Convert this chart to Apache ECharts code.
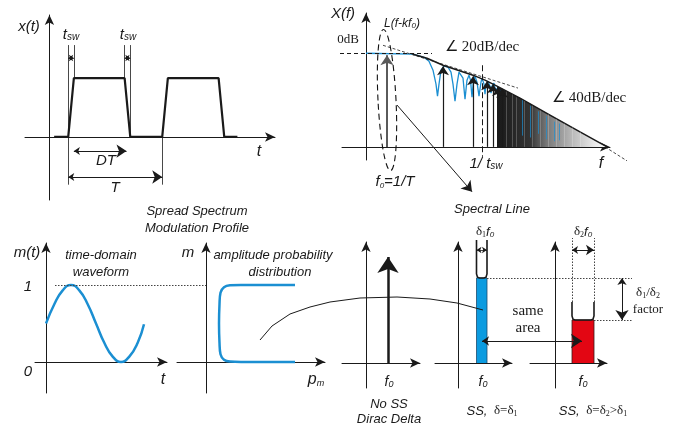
<!DOCTYPE html>
<html>
<head>
<meta charset="utf-8">
<script src="https://cdn.jsdelivr.net/npm/echarts@6/dist/echarts.min.js"></script>
<style>
  html, body { margin: 0; padding: 0; background: #fff; }
  #chart { width: 689px; height: 426px; }
</style>
</head>
<body>
<div id="chart"></div>
<script>
// ---- top left: trapezoidal switching waveform (t in periods T, x normalised) ----
const pulseT = [0.05, 0.2, 0.26, 0.8, 0.86, 1.2, 1.26, 1.8, 1.86, 2.0];
const pulseX = [0, 0, 1, 1, 0, 0, 1, 1, 0, 0];
const guideT = [0.2, 0.26, 0.8, 0.86, 1.2];
const guideTop = [1.56, 1.56, 1.56, 1.56, 0];
const guideBottom = [-0.81, 1, 1, 0, -0.81];
const tswSpans = [[0.2, 0.26], [0.8, 0.86]];
const dtSpan = [0.26, 0.82];
const periodSpan = [0.2, 1.2];

// ---- top right: spectrum magnitude (relative frequency / relative level) ----
const envF = [0.47, 0.61, 0.77, 0.92, 1.07, 1.19, 1.31, 1.54, 1.84, 2.14, 2.41];
const envMag = [0.99, 0.947, 0.872, 0.819, 0.766, 0.713, 0.649, 0.521, 0.34, 0.16, 0];
const rollF = [1.31, 1.54, 1.84, 2.14, 2.41];
const rollMag = [0.649, 0.521, 0.34, 0.16, 0];
const sincF = [0, 0.47, 0.58, 0.63, 0.67, 0.70, 0.715, 0.73, 0.75, 0.78, 0.82, 0.85, 0.87, 0.89, 0.91, 0.93,
  0.95, 0.97, 0.99, 1.01, 1.03, 1.045, 1.06, 1.075, 1.09, 1.11, 1.13, 1.15, 1.16, 1.18, 1.19, 1.20,
  1.22, 1.24, 1.25, 1.26, 1.28, 1.29, 1.30, 1.31, 1.33, 1.35, 1.37];
const sincMag = [1.0, 0.99, 0.957, 0.915, 0.819, 0.67, 0.543, 0.67, 0.819, 0.862, 0.851, 0.798, 0.67, 0.489, 0.67, 0.798,
  0.809, 0.734, 0.51, 0.713, 0.766, 0.713, 0.532, 0.713, 0.755, 0.691, 0.543, 0.691, 0.734, 0.67, 0.564, 0.67,
  0.702, 0.649, 0.574, 0.649, 0.681, 0.628, 0.574, 0.628, 0.649, 0.585, 0.617];
const f0 = 0.21, f0Mag = 0.98;
const harmF = [0.77, 1.07, 1.21, 1.27, 1.32, 1.36];
const harmMag = [0.86, 0.755, 0.70, 0.67, 0.64, 0.62];
const stripeF = [1.40, 1.46, 1.50, 1.58, 1.66, 1.74, 1.82, 1.90, 1.98, 2.06, 2.14];
const stripeTop = [0.59, 0.56, 0.53, 0.49, 0.44, 0.39, 0.35, 0.30, 0.25, 0.21, 0.16];
const blueTailF = [1.56, 1.64, 1.72, 1.80, 1.88, 1.93];
const blueTailTop = [0.50, 0.44, 0.38, 0.33, 0.27, 0.25];
const blueTailBottom = [0.12, 0.10, 0.14, 0.08, 0.06, 0.07];
const zeroDbF = [-0.26, 0.66];
const slope20F = [0.17, 1.52], slope20Mag = [1.085, 0.628];
const slope40F = [2.39, 2.61], slope40Mag = [0, -0.149];
const fSwitch = 1.16, fSwitchMag = [0.872, -0.106];
const lorentzCenter = [0.21, 0.5];
const lorentzSpanF = 0.09, lorentzSpanMag = 0.755; // half-width / half-height of the dashed ellipse
const pointerF = [0.31, 1.06], pointerMag = [0.447, -0.479];

// ---- bottom left: modulation profile ----
const modT = [0, 0.083, 0.167, 0.25, 0.333, 0.417, 0.5, 0.583, 0.667, 0.75, 0.833, 0.917, 0.98];
const modM = [0.5, 0.75, 0.93, 1.0, 0.93, 0.75, 0.5, 0.25, 0.07, 0, 0.07, 0.25, 0.49];
const pdfP = [0.89, 0.35, 0.24, 0.18, 0.145, 0.135, 0.13, 0.135, 0.145, 0.18, 0.24, 0.35, 0.89];
const pdfM = [1.0, 1.0, 0.995, 0.97, 0.9, 0.75, 0.5, 0.25, 0.1, 0.03, 0.005, 0, 0];
const maxLineT = [0.09, 1.6];

// ---- bottom right: spectral line shapes ----
const diracF = 0.22, diracH = 1.06;
const ss1Edges = [0.185, 0.29], ss1H = 0.85, ss1Top = 1.23;
const ss2Edges = [0.17, 0.39], ss2H = 0.43, ss2Solid = 0.61, ss2Top = 1.25;
const widthMarkH = 1.13;
const sameAreaSpan = [0.24, 1.24], sameAreaH = 0.22;
const factorX = 0.67;
const levelLineEnd = 1.74, level2LineEnd = 0.77;
const curveX = [-1.06, -0.94, -0.76, -0.56, -0.36, -0.06, 0.31, 0.64, 0.91, 1.17];
const curveY = [0.23, 0.37, 0.49, 0.56, 0.61, 0.65, 0.66, 0.64, 0.60, 0.53];

const SANS = '"Liberation Sans", Arial, sans-serif';
const SERIF = '"Liberation Serif", "Times New Roman", serif';
const INK = '#1a1a1a';
const BLUE = '#1b8fd2';
const BAR_BLUE = '#0b9be0';
const RED = '#e30613';

// grids: [left, top, width, height, xmin, xmax, ymin, ymax]
const panels = [
  [25, 15, 250, 185, -0.26, 2.4, -1.07, 2.07],
  [342, 13, 268, 147, -0.24, 2.44, -0.14, 1.43],
  [35, 243, 132, 150, -0.11, 1.21, -0.403, 1.545],
  [177, 243, 148, 150, -0.29, 1.19, -0.403, 1.545],
  [342, 242, 78, 146, -0.24, 0.54, -0.25, 1.21],
  [435, 242, 77, 146, -0.23, 0.54, -0.25, 1.21],
  [530, 242, 77, 146, -0.25, 0.52, -0.25, 1.21],
];

const axisLine = {
  show: true, onZero: true, symbol: ['none', 'arrow'], symbolSize: [7, 10],
  lineStyle: { color: INK, width: 1 },
};
const grid = panels.map((p) => ({ left: p[0], top: p[1], width: p[2], height: p[3] }));
const xAxis = panels.map((p, i) => ({
  gridIndex: i, type: 'value', min: p[4], max: p[5], axisLine,
  axisTick: { show: false }, axisLabel: { show: false }, splitLine: { show: false },
}));
const yAxis = panels.map((p, i) => ({
  gridIndex: i, type: 'value', min: p[6], max: p[7], axisLine,
  axisTick: { show: false }, axisLabel: { show: false }, splitLine: { show: false },
}));

const zip = (xs, ys) => xs.map((x, i) => [x, ys[i]]);

function path(gi, data, lineStyle, extra) {
  return Object.assign({
    type: 'line', xAxisIndex: gi, yAxisIndex: gi, data, symbol: 'none',
    lineStyle, clip: false, silent: true, z: 3,
  }, extra);
}

// straight segments / polylines (with optional arrow heads), not clipped to the grid
function arrows(gi, segs, lineStyle, symbol, symbolSize, extra) {
  return Object.assign({
    type: 'lines', coordinateSystem: 'cartesian2d', xAxisIndex: gi, yAxisIndex: gi,
    data: segs.map((c) => ({ coords: c })), symbol, symbolSize,
    lineStyle: Object.assign({ opacity: 1, curveness: 0 }, lineStyle),
    clip: false, silent: true, z: 4,
  }, extra);
}
const segs = (gi, list, lineStyle) => arrows(gi, list, lineStyle, ['none', 'none'], 0);

function uShape(l, r, h, top) {
  return [[l, top], [l, h + 0.04], [l + 0.01, h + 0.008], [l + 0.03, h], [r - 0.03, h], [r - 0.01, h + 0.008], [r, h + 0.04], [r, top]];
}

const thin = { color: INK, width: 0.8 };
const dashed = { color: INK, width: 1, type: [4, 3] };
const dotted = { color: '#444', width: 1, type: [1.5, 1.5] };

const series = [
  // pulse panel
  path(0, zip(pulseT, pulseX), { color: INK, width: 2.2 }),
  segs(0, guideT.map((t, i) => [[t, guideTop[i]], [t, guideBottom[i]]]), thin),
  arrows(0, tswSpans.map((s) => [[s[0], 1.34], [s[1], 1.34]]), thin, ['arrow', 'arrow'], [5, 5]),
  arrows(0, [[[dtSpan[0], -0.24], [dtSpan[1], -0.24]], [[periodSpan[0], -0.68], [periodSpan[1], -0.68]]],
    { color: INK, width: 1 }, ['arrow', 'arrow'], [6, 10]),

  // spectrum panel
  path(1, zip(rollF, rollMag), { width: 0 }, {
    areaStyle: {
      opacity: 1,
      color: new echarts.graphic.LinearGradient(0, 0, 1, 0, [
        { offset: 0, color: '#1a1a1a' }, { offset: 0.3, color: '#333' }, { offset: 0.45, color: '#777' },
        { offset: 0.7, color: '#bdbdbd' }, { offset: 0.88, color: '#e8e8e8' }, { offset: 1, color: '#fcfcfc' },
      ]),
    },
  }),
  segs(1, stripeF.map((f, i) => [[f, 0], [f, stripeTop[i]]]), { color: '#ffffff', width: 1, opacity: 0.22 }),
  segs(1, blueTailF.map((f, i) => [[f, blueTailTop[i]], [f, blueTailBottom[i]]]), { color: BLUE, width: 1, opacity: 0.7 }),
  path(1, zip(sincF, sincMag), { color: BLUE, width: 1.3 }),
  arrows(1, [[[f0, 0], [f0, f0Mag]]], { color: '#5a5a5a', width: 2 }, ['none', 'arrow'], [7, 10]),
  arrows(1, harmF.map((f, i) => [[f, 0], [f, harmMag[i]]]), { color: INK, width: 1.2 }, ['none', 'arrow'], [6, 9]),
  path(1, zip(envF, envMag), { color: INK, width: 1.5 }),
  segs(1, [[[zeroDbF[0], 1], [zeroDbF[1], 1]]], dashed),
  segs(1, [zip(slope20F, slope20Mag), zip(slope40F, slope40Mag)], { color: INK, width: 0.8, type: [3, 2] }),
  segs(1, [[[fSwitch, fSwitchMag[0]], [fSwitch, fSwitchMag[1]]]], { color: INK, width: 1, type: [6, 3] }),
  arrows(1, [[[pointerF[0], pointerMag[0]], [pointerF[1], pointerMag[1]]]], { color: INK, width: 1 }, ['none', 'arrow'], [7, 10]),

  // modulation profile panels
  path(2, zip(modT, modM), { color: BLUE, width: 2.5 }, { smooth: true }),
  segs(2, [[[maxLineT[0], 1], [maxLineT[1], 1]]], dotted),
  path(3, zip(pdfP, pdfM), { color: BLUE, width: 2.5 }, { smooth: 0.4 }),

  // dirac delta
  arrows(4, [[[diracF, 0], [diracF, diracH]]], { color: INK, width: 2.5 }, ['none', 'arrow'], [10, 16]),
  arrows(4, [zip(curveX, curveY)], { color: INK, width: 1 }, ['none', 'arrow'], [7, 11], { polyline: true }),

  // spread line, delta 1
  path(5, [[ss1Edges[0], 0], [ss1Edges[0], ss1H], [ss1Edges[1], ss1H], [ss1Edges[1], 0]],
    { color: '#1d4b6e', width: 0.8 }, { areaStyle: { color: BAR_BLUE, opacity: 1 } }),
  arrows(5, [uShape(ss1Edges[0], ss1Edges[1], ss1H, ss1Top)], { color: INK, width: 1.6 }, ['none', 'none'], 0, { polyline: true }),
  arrows(5, [[[ss1Edges[0], widthMarkH], [ss1Edges[1], widthMarkH]]], thin, ['arrow', 'arrow'], [5, 5]),
  segs(5, [[[ss1Edges[1], ss1H], [levelLineEnd, ss1H]]], dotted),
  arrows(5, [[[sameAreaSpan[0], sameAreaH], [sameAreaSpan[1], sameAreaH]]], { color: INK, width: 1 }, ['arrow', 'arrow'], [7, 11]),

  // spread line, delta 2
  path(6, [[ss2Edges[0], 0], [ss2Edges[0], ss2H], [ss2Edges[1], ss2H], [ss2Edges[1], 0]],
    { color: '#3a1a1a', width: 0.8 }, { areaStyle: { color: RED, opacity: 1 } }),
  arrows(6, [uShape(ss2Edges[0], ss2Edges[1], ss2H, ss2Solid)], { color: INK, width: 1.6 }, ['none', 'none'], 0, { polyline: true }),
  segs(6, [[[ss2Edges[0], ss2Solid], [ss2Edges[0], ss2Top]], [[ss2Edges[1], ss2Solid], [ss2Edges[1], ss2Top]]], dotted),
  arrows(6, [[[ss2Edges[0], widthMarkH], [ss2Edges[1], widthMarkH]]], { color: INK, width: 1 }, ['arrow', 'arrow'], [6, 8]),
  segs(6, [[[ss2Edges[1], ss2H], [level2LineEnd, ss2H]]], dotted),
  arrows(6, [[[factorX, ss1H], [factorX, ss2H]]], { color: INK, width: 1 }, ['arrow', 'arrow'], [7, 10]),
];

// text labels
const sans = (size) => ({ fontFamily: SANS, fontStyle: 'italic', fontSize: size, fill: INK });
const serif = (size) => ({ fontFamily: SERIF, fontSize: size, fill: INK });
const sub = (size, family, italic) => ({
  fontFamily: family || SANS, fontStyle: italic ? 'italic' : 'normal', fontSize: size, fill: INK,
  verticalAlign: 'bottom',
});
const richSet = {
  a: sans(15), s: sub(10, SANS, true), b: sans(13), c: sub(8, SANS, true),
  sa: sans(12), ss: sub(8, SANS, true),
  r: serif(13), rs: sub(8, SERIF), rf: sans(13), rfs: sub(8, SANS, true),
  ra: serif(15), sq: sans(14), sqs: sub(9, SANS, true), big: sans(16), bigs: sub(9, SANS, true),
};
function label(x, y, text, align) {
  return {
    type: 'text', x, y, silent: true, z: 10,
    style: { text, align: align || 'center', verticalAlign: 'middle', rich: richSet, fill: INK },
  };
}

const graphic = [
  label(29, 27, '{a|x(t)}'),
  label(71, 35, '{a|t}{s|sw}'),
  label(128, 35, '{a|t}{s|sw}'),
  label(106, 161, '{a|DT}'),
  label(115, 188, '{a|T}'),
  label(259, 152, '{big|t}'),

  label(343, 14, '{a|X(f)}'),
  label(402, 24, '{sa|L(f-kf}{ss|0}{sa|)}'),
  label(348, 40, '{r|0dB}'),
  label(445, 47, '{ra|∠ 20dB/dec}', 'left'),
  label(552, 98, '{ra|∠ 40dB/dec}', 'left'),
  label(486, 164, '{a|1/ t}{s|sw}'),
  label(601, 164, '{big|f}'),
  label(395, 182, '{a|f}{c|0}{a|=1/T}'),

  label(197, 211, '{b|Spread Spectrum}'),
  label(197, 228, '{b|Modulation Profile}'),
  label(492, 209, '{b|Spectral Line}'),

  label(27, 253, '{a|m(t)}'),
  label(101, 255, '{b|time-domain}'),
  label(101, 272, '{b|waveform}'),
  label(28, 287, '{a|1}'),
  label(28, 372, '{a|0}'),
  label(163, 380, '{big|t}'),
  label(188, 253, '{a|m}'),
  label(273, 255, '{b|amplitude probability}'),
  label(280, 272, '{b|distribution}'),
  label(316, 380, '{big|p}{bigs|m}'),

  label(389, 382, '{sq|f}{sqs|0}'),
  label(483, 382, '{sq|f}{sqs|0}'),
  label(583, 382, '{sq|f}{sqs|0}'),
  label(389, 404, '{b|No SS}'),
  label(389, 419, '{b|Dirac Delta}'),
  label(492, 411, '{b|SS,}{r|  δ=δ}{rs|1}'),
  label(593, 411, '{b|SS,}{r|  δ=δ}{rs|2}{r|>δ}{rs|1}'),
  label(485, 232, '{r|δ}{rs|1}{rf|f}{rfs|0}'),
  label(583, 232, '{r|δ}{rs|2}{rf|f}{rfs|0}'),
  label(528, 311, '{ra|same}'),
  label(528, 328, '{ra|area}'),
  label(648, 293, '{r|δ}{rs|1}{r|/δ}{rs|2}'),
  label(648, 310, '{r|factor}'),
];

const chart = echarts.init(document.getElementById('chart'));
chart.setOption({
  animation: false,
  backgroundColor: '#fff',
  grid, xAxis, yAxis, series, graphic,
});

// dashed Lorentzian outline around f0, placed through the spectrum axes
const c = chart.convertToPixel({ gridIndex: 1 }, lorentzCenter);
const edge = chart.convertToPixel({ gridIndex: 1 }, [lorentzCenter[0] + lorentzSpanF, lorentzCenter[1] + lorentzSpanMag]);
graphic.push({
  type: 'ellipse', silent: true, z: 6, rotation: 0.05, x: c[0], y: c[1],
  shape: { cx: 0, cy: 0, rx: Math.abs(edge[0] - c[0]), ry: Math.abs(edge[1] - c[1]) },
  style: { fill: 'none', stroke: '#111', lineWidth: 1.1, lineDash: [6, 4] },
});
chart.setOption({ graphic });
</script>
</body>
</html>
